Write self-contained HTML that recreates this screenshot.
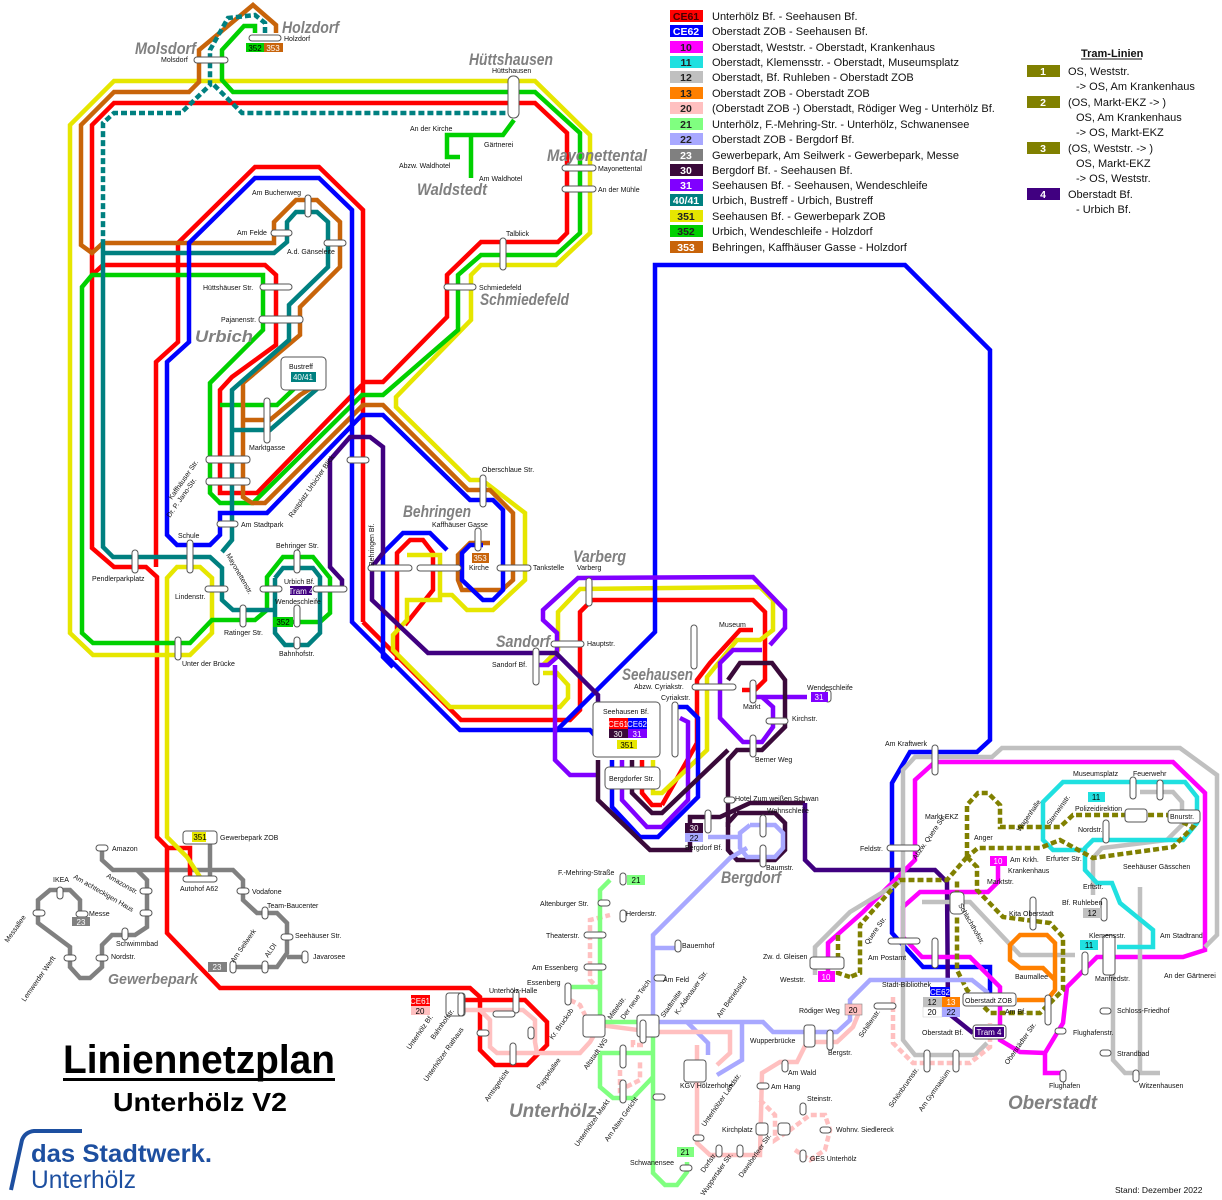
<!DOCTYPE html>
<html><head><meta charset="utf-8">
<style>
html,body{margin:0;padding:0;background:#fff;}
svg{display:block;}
.l{fill:none;stroke-width:4.5;stroke-linejoin:miter;stroke-linecap:butt;}
.d{stroke-dasharray:6 3;}
.s{fill:#fff;stroke:#555;stroke-width:1;}
.t{font-family:"Liberation Sans",sans-serif;font-size:7px;fill:#111;}
.r{font-family:"Liberation Sans",sans-serif;font-size:17px;font-style:italic;font-weight:bold;fill:#808080;}
.lg{font-family:"Liberation Sans",sans-serif;font-size:11px;fill:#111;}
.bt{font-family:"Liberation Sans",sans-serif;font-size:10.5px;font-weight:bold;text-anchor:middle;}
.bs{font-family:"Liberation Sans",sans-serif;font-size:8px;text-anchor:middle;}
</style></head><body>
<svg width="1222" height="1200" viewBox="0 0 1222 1200" xmlns="http://www.w3.org/2000/svg">
<rect width="1222" height="1200" fill="#fff"/>

<!-- ===== Gewerbepark gray 23 ===== -->
<g stroke="#808080" class="l">
<polyline class="l" points="102,848 102,860 113,870 233,870 243,880 243,900 257,913 277,913 287,923 287,953 277,967 233,967"/>
<polyline class="l" points="287,957 307,957"/>
<polyline class="l" points="137,870 147,880 147,927 135,935 112,935 102,945 102,967 90,978 80,978 70,967 70,947 38,923 38,900 50,890 70,890 80,900 80,913"/>
<polyline class="l" points="210,833 210,880"/>
</g>

<!-- ===== Red CE61 ===== -->
<g stroke="#ff0000">
<polyline class="l" points="447,1000 525,1000 547,1022 547,1045 527,1065 495,1065 480,1050 480,997 470,988 220,988 167,933 167,847 157,837 157,577 146,567 114,567 92,548 92,125 114,103 535,103 567,133 567,233 558,242 481,242 447,275 447,317 383,382 363,382"/>
<polyline class="l" points="363,622 363,210 319,167 255,167 178,243 178,342 156,362 156,567"/>
<polyline class="l" points="92,275 103,265 265,265 276,275 276,345 232,377 220,390 220,493 257,493 362,385"/>
<polyline class="l" points="167,848 190,848 190,878"/>
<polyline class="l" points="363,622 461,720 570,720 580,710 580,612 592,600 753,600 765,612 765,680 755,690 742,690"/>
<polyline class="l" points="753,630 740,630 710,663 697,680 697,743 662,805"/>
<polyline class="l" points="642,760 642,793 652,805 662,805"/>
<polyline class="l" points="397,660 397,553 410,540 423,540 433,553 433,590 405,625"/>
</g>

<!-- ===== Yellow 351 ===== -->
<g stroke="#e6e600">
<polyline class="l" points="200,877 187,857 167,837 167,578 177,567 200,567 212,578 212,633 190,655 93,655 70,633 70,125 114,81 535,81 590,135 590,233 556,265 481,265 471,275 471,320 396,397 396,407 470,480 482,480 525,513 525,580 493,610 467,610 452,595 440,595"/>
<polyline class="l" points="407,555 440,555 440,600 407,600 407,620 393,635 393,650 450,707 560,707 568,698 568,685 557,673 543,673"/>
<polyline class="l" points="543,665 558,650 558,612 580,589 760,587 773,600 773,630 760,640 737,640 707,677 707,750 662,793 653,793 653,760"/>
</g>

<!-- ===== Green 352 ===== -->
<g stroke="#00d000">
<polyline class="l" points="255,33 255,26 244,26 222,50 222,80 233,92 535,92 580,133 580,233 556,255 481,255 458,275 458,330 383,395 362,395 253,503 220,503 210,493 210,383 263,330 263,275 92,275 82,287 82,633 93,643 190,643 212,620 255,620 267,610 267,577 283,557 313,557 330,578 330,613 320,622 277,622"/>
<polyline class="l" points="514,120 503,135 447,135 447,157 460,157"/>
<polyline class="l" points="471,135 471,178"/>
<polyline class="l" points="220,405 277,405 298,385"/>
</g>

<!-- ===== Brown 353 ===== -->
<g stroke="#c8640a">
<polyline class="l" points="276,33 276,25 253,5 199,50 199,82 189,92 114,92 81,125 81,245 92,253 103,243 274,243 274,222 296,200 317,200 340,222 340,267 300,307 300,335 243,383 243,497 252,503 265,503 363,405 383,405 468,490 490,490 513,513 513,580 502,590 462,590 458,580 458,555 470,543 490,543"/>
<polyline class="l" points="243,420 270,420 300,395 325,380"/>
</g>

<!-- ===== Teal 40/41 ===== -->
<g stroke="#008080">
<polyline class="l d" points="265,33 265,23 255,15 228,18 210,50 210,85 181,113 114,113 103,123 103,240"/>
<polyline class="l d" points="214,85 242,113 506,113"/>
<polyline class="l" points="103,240 103,547 113,557 210,557 222,568 222,600 233,610 275,610"/>
<polyline class="l" points="103,253 274,253 287,242 287,222 296,212 317,212 328,222 328,267 289,305 289,340 232,390 232,540 222,552"/>
<polyline class="l" points="275,578 283,568 313,568 320,577 320,633 308,645 285,645 275,633 275,578"/>
<polyline class="l" points="232,430 270,430 310,395 325,382"/>
</g>

<!-- ===== Blue CE62 ===== -->
<g stroke="#0000ff">
<polyline class="l" points="990,993 990,967 923,967 892,933 892,783 910,752 977,752 990,740 990,350 905,265 655,265 655,632 557,730 460,730 352,622 352,210 319,178 255,178 189,243 189,342 167,362 167,535 177,545 210,545 220,535 220,513 267,513 362,415 383,415 470,500 493,500 503,510 503,590 493,600 483,600 462,580 462,553 470,545 483,545"/>
<polyline class="l" points="447,550 430,533 403,533 383,553 383,657 393,667"/>
<polyline class="l" points="612,760 612,807 640,837 658,837 698,797 698,718 687,707 677,707"/>
<polyline class="l" points="557,730 590,730 603,745"/>
</g>

<!-- ===== Purple 31 ===== -->
<g stroke="#8000ff">
<polyline class="l" points="538,665 548,665 557,657 557,633 543,620 543,610 578,578 753,577 785,610 785,628 770,645"/>
<polyline class="l" points="555,665 555,760 570,775 598,775"/>
<polyline class="l" points="622,760 622,800 647,827 662,827 688,800 688,722 680,718"/>
<polyline class="l" points="762,650 733,650 720,663 720,718 743,742 762,742 773,727 773,707 762,697"/>
<polyline class="l" points="753,697 807,697"/>
</g>

<!-- ===== Dark 30 / Tram 4 ===== -->
<g stroke="#3a0a3a">
<polyline class="l" points="632,760 632,793 652,813 662,813 728,750"/>
<polyline class="l" points="728,680 740,663 772,663 785,680 785,727 762,750 737,750 728,760 728,827"/>
<polyline class="l" points="598,760 598,800 650,850 690,850 690,817 720,817 750,803 805,803"/>
<polyline class="l" points="737,813 775,813 785,823 785,850 775,860 737,860 728,850 728,823 737,813"/>
</g>
<g stroke="#400080">
<polyline class="l" points="973,1033 948,1013 947,882 935,870 815,870 805,860 805,803"/>
<polyline class="l" points="342,590 342,580 330,567 330,460 350,437 370,437 383,447 383,553 372,567 372,600 428,653 556,653 598,695 598,757"/>
</g>

<!-- ===== Magenta 10 ===== -->
<g stroke="#ff00ff">
<polyline class="l" points="828,977 828,943 863,912 915,860 915,780 935,762 1173,762 1205,793 1205,950 1183,957 1097,957 1087,967 1067,987 1063,1023 1045,1053 1045,1073 1063,1073"/>
<polyline class="l" points="998,863 998,882 988,892 920,892 903,907 903,937 922,957 970,957 1000,987 1000,1040 1020,1052 1045,1053"/>
</g>

<!-- ===== Gray 12 ===== -->
<g stroke="#c0c0c0">
<polyline class="l" points="1205,947 1217,935 1217,775 1180,748 1002,748 992,757 915,757 903,770 903,1040 915,1055 975,1055 987,1043"/>
<polyline class="l" points="815,975 815,947 850,912 903,880"/>
<polyline class="l" points="922,902 970,902 1020,955 1075,955"/>
<polyline class="l" points="1113,963 1113,1060 1125,1073 1160,1073"/>
<polyline class="l" points="1140,887 1140,1073"/>
<polyline class="l" points="1140,792 1173,792 1182,802 1182,825 1167,840 1102,848 1093,858 1093,895"/>
</g>

<!-- ===== Cyan 11 ===== -->
<g stroke="#20e0e0">
<polyline class="l" points="1083,850 1053,850 1043,840 1043,802 1063,782 1185,782 1197,797 1197,823 1183,840 1093,840 1085,848 1085,870 1097,883 1112,883 1120,903 1153,930 1153,947 1117,947"/>
</g>

<!-- ===== Orange 13 ===== -->
<g stroke="#ff8000">
<polyline class="l" points="1017,1000 1047,1000 1055,990 1055,943 1047,935 1020,935 1010,945 1010,960 1020,968 1043,968 1055,980"/>
</g>

<!-- ===== Olive trams ===== -->
<g stroke="#808000">
<polyline class="l d" points="967,857 967,805 978,793 988,793 1000,805 1000,827 1013,827 1060,827 1073,815 1167,815 1193,827 1173,847 1093,858 1060,840 1040,848 978,848 967,857"/>
<polyline class="l d" points="967,857 947,880 900,880 860,925 860,973 850,977"/>
<polyline class="l d" points="967,857 977,867 977,890 1003,917 1050,923 1063,937 1063,990 1040,1013 990,1013 967,990 957,970 957,880"/>
<polyline class="l d" points="838,935 838,973 850,977"/>
</g>

<!-- ===== Lavender 22 ===== -->
<g stroke="#a8a8ff">
<polyline class="l" points="653,1022 653,935 730,858 747,848"/>
<polyline class="l" points="750,825 775,825 783,833 783,848 775,857 747,857 740,848 740,833 750,825"/>
<polyline class="l" points="708,837 740,837"/>
<polyline class="l" points="653,1022 763,1022 773,1032 837,1032 850,1020 850,1000 870,980 972,980 987,992 987,1000"/>
<polyline class="l" points="687,1022 708,1043 708,1055"/>
<polyline class="l" points="742,1022 742,1060 717,1075"/>
<polyline class="l" points="653,948 675,948"/>
</g>

<!-- ===== Pink 20 ===== -->
<g stroke="#ffc0c0">
<polyline class="l" points="447,1010 523,1010 535,1020 535,1042 537,1053 580,1053 590,1042 600,1025 653,1032 730,1032 730,1053 717,1065"/>
<polyline class="l" points="480,1010 490,1020 490,1047 497,1053 537,1053"/>
<polyline class="l" points="697,1045 697,1143 710,1155 760,1155 762,1073 780,1062 797,1062 807,1042 837,1042 853,1027 860,1010"/>
<polyline class="l d" points="893,997 893,1043 913,1063 970,1063 990,1047 990,1023"/>
<polyline class="l d" points="600,990 590,980 590,920 610,915"/>
<polyline class="l d" points="620,1070 620,1090 640,1080 640,1060"/>
<polyline class="l d" points="760,1100 775,1115 775,1140 790,1130 810,1115 825,1115 830,1130 825,1150 810,1160 795,1150"/>
<polyline class="l d" points="633,1040 633,1045 643,1045"/>
<polyline class="l d" points="570,1000 580,1005 585,1015"/>
</g>

<!-- ===== Light green 21 ===== -->
<g stroke="#80ff80">
<polyline class="l" points="610,880 600,890 600,1022 653,1022 653,1173 665,1185 677,1185 687,1172 687,1162"/>
<polyline class="l" points="600,1053 653,1053"/>
<polyline class="l" points="600,1053 600,1087 613,1098 633,1098 653,1077"/>
<polyline class="l" points="570,987 600,987"/>
</g>

<!-- ===== Stations ===== -->
<g class="s">
<rect x="194" y="57" width="34" height="6" rx="3"/>
<rect x="249" y="35" width="32" height="6" rx="3"/>
<rect x="508" y="76" width="11" height="42" rx="5"/>
<rect x="562" y="165" width="34" height="6" rx="3"/>
<rect x="562" y="186" width="34" height="6" rx="3"/>
<rect x="444" y="284" width="32" height="6" rx="3"/>
<rect x="500" y="238" width="6" height="32" rx="3"/>
<rect x="305" y="195" width="6" height="22" rx="3"/>
<rect x="271" y="230" width="21" height="6" rx="3"/>
<rect x="324" y="240" width="22" height="6" rx="3"/>
<rect x="260" y="284" width="32" height="6" rx="3"/>
<rect x="259" y="316" width="44" height="7" rx="3"/>
<rect x="281" y="357" width="45" height="33" rx="4"/>
<rect x="264" y="398" width="6" height="45" rx="3"/>
<rect x="206" y="456" width="44" height="7" rx="3"/>
<rect x="206" y="478" width="44" height="7" rx="3"/>
<rect x="217" y="521" width="21" height="6" rx="3"/>
<rect x="187" y="540" width="6" height="33" rx="3"/>
<rect x="132" y="550" width="6" height="23" rx="3"/>
<rect x="205" y="586" width="23" height="6" rx="3"/>
<rect x="260" y="586" width="22" height="6" rx="3"/>
<rect x="313" y="586" width="34" height="6" rx="3"/>
<rect x="294" y="550" width="6" height="23" rx="3"/>
<rect x="294" y="605" width="6" height="22" rx="3"/>
<rect x="294" y="637" width="6" height="12" rx="3"/>
<rect x="240" y="605" width="6" height="22" rx="3"/>
<rect x="175" y="637" width="6" height="23" rx="3"/>
<rect x="347" y="457" width="22" height="6" rx="3"/>
<rect x="480" y="475" width="6" height="32" rx="3"/>
<rect x="368" y="565" width="44" height="6" rx="3"/>
<rect x="417" y="565" width="44" height="6" rx="3"/>
<rect x="497" y="565" width="34" height="6" rx="3"/>
<rect x="475" y="528" width="6" height="23" rx="3"/>
<rect x="586" y="578" width="6" height="28" rx="3"/>
<rect x="551" y="641" width="33" height="6" rx="3"/>
<rect x="533" y="648" width="6" height="37" rx="3"/>
<rect x="691" y="625" width="6" height="44" rx="3"/>
<rect x="692" y="684" width="44" height="6" rx="3"/>
<rect x="750" y="680" width="6" height="23" rx="3"/>
<rect x="825" y="690" width="6" height="12" rx="3"/>
<rect x="766" y="718" width="22" height="6" rx="3"/>
<rect x="750" y="735" width="6" height="22" rx="3"/>
<rect x="593" y="702" width="67" height="55" rx="4"/>
<rect x="605" y="767" width="55" height="22" rx="4"/>
<rect x="672" y="702" width="6" height="55" rx="3"/>
<rect x="724" y="797" width="11" height="6" rx="3"/>
<rect x="705" y="810" width="6" height="23" rx="3"/>
<rect x="760" y="815" width="6" height="22" rx="3"/>
<rect x="760" y="845" width="6" height="22" rx="3"/>
<rect x="932" y="745" width="6" height="30" rx="3"/>
<rect x="887" y="845" width="33" height="6" rx="3"/>
<rect x="950" y="892" width="14" height="22" rx="4"/>
<rect x="1130" y="777" width="6" height="22" rx="3"/>
<rect x="1157" y="780" width="6" height="20" rx="3"/>
<rect x="1125" y="809" width="22" height="13" rx="3"/>
<rect x="1168" y="810" width="32" height="13" rx="3"/>
<rect x="1103" y="820" width="6" height="23" rx="3"/>
<rect x="1101" y="898" width="6" height="23" rx="3"/>
<rect x="1030" y="897" width="6" height="33" rx="3"/>
<rect x="1103" y="935" width="12" height="40" rx="3"/>
<rect x="1082" y="952" width="6" height="23" rx="3"/>
<rect x="888" y="938" width="32" height="6" rx="3"/>
<rect x="932" y="938" width="6" height="30" rx="3"/>
<rect x="874" y="1003" width="22" height="6" rx="3"/>
<rect x="1045" y="995" width="6" height="30" rx="3"/>
<rect x="963" y="993" width="53" height="13" rx="3"/>
<rect x="973" y="1025" width="33" height="14" rx="3"/>
<rect x="810" y="957" width="34" height="12" rx="3"/>
<rect x="1055" y="1028" width="11" height="6" rx="3"/>
<rect x="1100" y="1008" width="11" height="6" rx="3"/>
<rect x="1100" y="1050" width="11" height="6" rx="3"/>
<rect x="1060" y="1070" width="6" height="12" rx="3"/>
<rect x="1133" y="1070" width="6" height="12" rx="3"/>
<rect x="924" y="1050" width="6" height="22" rx="3"/>
<rect x="953" y="1050" width="6" height="22" rx="3"/>
<rect x="804" y="1025" width="11" height="22" rx="3"/>
<rect x="827" y="1030" width="6" height="20" rx="3"/>
<rect x="782" y="1060" width="6" height="12" rx="3"/>
<rect x="757" y="1083" width="12" height="6" rx="3"/>
<rect x="800" y="1103" width="6" height="12" rx="3"/>
<rect x="756" y="1123" width="12" height="12" rx="3"/>
<rect x="778" y="1123" width="12" height="12" rx="3"/>
<rect x="820" y="1127" width="11" height="6" rx="3"/>
<rect x="800" y="1150" width="6" height="12" rx="3"/>
<rect x="693" y="1135" width="11" height="6" rx="3"/>
<rect x="716" y="1145" width="6" height="12" rx="3"/>
<rect x="737" y="1145" width="6" height="12" rx="3"/>
<rect x="684" y="1060" width="22" height="22" rx="3"/>
<rect x="637" y="1015" width="22" height="22" rx="3"/>
<rect x="583" y="1015" width="22" height="22" rx="3"/>
<rect x="620" y="873" width="6" height="12" rx="3"/>
<rect x="598" y="900" width="12" height="6" rx="3"/>
<rect x="620" y="910" width="6" height="12" rx="3"/>
<rect x="584" y="932" width="22" height="6" rx="3"/>
<rect x="584" y="964" width="22" height="6" rx="3"/>
<rect x="565" y="983" width="6" height="22" rx="3"/>
<rect x="675" y="940" width="6" height="12" rx="3"/>
<rect x="654" y="975" width="12" height="6" rx="3"/>
<rect x="446" y="993" width="19" height="23" rx="3"/>
<rect x="458" y="993" width="6" height="23" rx="3"/>
<rect x="513" y="990" width="6" height="23" rx="3"/>
<rect x="528" y="1027" width="6" height="12" rx="3"/>
<rect x="477" y="1030" width="12" height="6" rx="3"/>
<rect x="493" y="1011" width="22" height="6" rx="3"/>
<rect x="510" y="1043" width="6" height="22" rx="3"/>
<rect x="620" y="1045" width="6" height="23" rx="3"/>
<rect x="620" y="1080" width="6" height="23" rx="3"/>
<rect x="640" y="1020" width="6" height="23" rx="3"/>
<rect x="653" y="1094" width="12" height="6" rx="3"/>
<rect x="680" y="1165" width="12" height="6" rx="3"/>
<rect x="183" y="831" width="34" height="13" rx="3"/>
<rect x="183" y="876" width="34" height="6" rx="3"/>
<rect x="96" y="845" width="12" height="6" rx="3"/>
<rect x="140" y="888" width="12" height="6" rx="3"/>
<rect x="140" y="910" width="12" height="6" rx="3"/>
<rect x="122" y="928" width="6" height="12" rx="3"/>
<rect x="96" y="955" width="12" height="6" rx="3"/>
<rect x="57" y="887" width="6" height="12" rx="3"/>
<rect x="33" y="910" width="12" height="6" rx="3"/>
<rect x="64" y="955" width="12" height="6" rx="3"/>
<rect x="76" y="911" width="12" height="6" rx="3"/>
<rect x="237" y="888" width="12" height="6" rx="3"/>
<rect x="262" y="907" width="6" height="12" rx="3"/>
<rect x="281" y="934" width="12" height="6" rx="3"/>
<rect x="302" y="951" width="6" height="12" rx="3"/>
<rect x="262" y="961" width="6" height="12" rx="3"/>
<rect x="230" y="961" width="6" height="12" rx="3"/>
</g>

<!-- ===== Badges on map ===== -->
<g>
<rect x="246" y="43" width="18" height="9" fill="#00d000"/><text x="255" y="51" class="bs">352</text>
<rect x="264" y="43" width="19" height="9" fill="#c8640a"/><text x="273" y="51" class="bs" fill="#fff">353</text>
<rect x="291" y="372" width="25" height="10" fill="#008080"/><text x="303" y="380" class="bs" fill="#fff">40/41</text>
<rect x="472" y="553" width="17" height="10" fill="#c8640a"/><text x="480" y="561" class="bs" fill="#fff">353</text>
<rect x="290" y="586" width="22" height="9" fill="#400080"/><text x="301" y="594" class="bs" fill="#fff">Tram 4</text>
<rect x="273" y="617" width="20" height="10" fill="#00d000"/><text x="283" y="625" class="bs">352</text>
<rect x="609" y="718" width="19" height="11" fill="#ff0000"/><text x="618" y="727" class="bs" fill="#fff">CE61</text>
<rect x="628" y="718" width="19" height="11" fill="#0000ff"/><text x="637" y="727" class="bs" fill="#fff">CE62</text>
<rect x="609" y="729" width="19" height="9" fill="#3a0a3a"/><text x="618" y="737" class="bs" fill="#fff">30</text>
<rect x="628" y="729" width="19" height="9" fill="#8000ff"/><text x="637" y="737" class="bs" fill="#fff">31</text>
<rect x="617" y="740" width="20" height="9" fill="#e6e600"/><text x="627" y="748" class="bs">351</text>
<rect x="811" y="692" width="17" height="10" fill="#8000ff"/><text x="819" y="700" class="bs" fill="#fff">31</text>
<rect x="685" y="823" width="18" height="10" fill="#3a0a3a"/><text x="694" y="831" class="bs" fill="#fff">30</text>
<rect x="685" y="833" width="18" height="9" fill="#a8a8ff"/><text x="694" y="841" class="bs">22</text>
<rect x="990" y="856" width="17" height="10" fill="#ff00ff"/><text x="998" y="864" class="bs" fill="#fff">10</text>
<rect x="1088" y="792" width="17" height="10" fill="#20e0e0"/><text x="1096" y="800" class="bs">11</text>
<rect x="1083" y="908" width="18" height="10" fill="#c0c0c0"/><text x="1092" y="916" class="bs">12</text>
<rect x="1080" y="940" width="18" height="10" fill="#20e0e0"/><text x="1089" y="948" class="bs">11</text>
<rect x="818" y="971" width="17" height="11" fill="#ff00ff"/><text x="826" y="980" class="bs" fill="#fff">10</text>
<rect x="930" y="987" width="20" height="9" fill="#0000ff"/><text x="940" y="995" class="bs" fill="#fff">CE62</text>
<rect x="923" y="997" width="19" height="10" fill="#c0c0c0"/><text x="932" y="1005" class="bs">12</text>
<rect x="942" y="997" width="18" height="10" fill="#ff8000"/><text x="951" y="1005" class="bs" fill="#fff">13</text>
<rect x="923" y="1007" width="19" height="10" fill="#fff" stroke="#ccc" stroke-width="0.5"/><text x="932" y="1015" class="bs">20</text>
<rect x="942" y="1007" width="18" height="10" fill="#a8a8ff"/><text x="951" y="1015" class="bs">22</text>
<rect x="975" y="1027" width="29" height="10" fill="#400080"/><text x="989" y="1035" class="bs" fill="#fff">Tram 4</text>
<rect x="845" y="1004" width="17" height="11" fill="#ffc0c0" stroke="#888" stroke-width="0.6"/><text x="853" y="1013" class="bs">20</text>
<rect x="411" y="995" width="19" height="11" fill="#ff0000"/><text x="420" y="1004" class="bs" fill="#fff">CE61</text>
<rect x="411" y="1006" width="19" height="9" fill="#ffc0c0"/><text x="420" y="1014" class="bs">20</text>
<rect x="627" y="875" width="18" height="10" fill="#80ff80"/><text x="636" y="883" class="bs">21</text>
<rect x="677" y="1147" width="17" height="10" fill="#80ff80"/><text x="685" y="1155" class="bs">21</text>
<rect x="192" y="832" width="14" height="10" fill="#e6e600"/><text x="200" y="840" class="bs">351</text>
<rect x="208" y="962" width="19" height="10" fill="#808080"/><text x="217" y="970" class="bs" fill="#fff">23</text>
<rect x="72" y="917" width="18" height="9" fill="#808080"/><text x="81" y="925" class="bs" fill="#fff">23</text>
</g>

<!-- ===== Region labels ===== -->
<g class="r">
<text x="135" y="54" textLength="61" lengthAdjust="spacingAndGlyphs">Molsdorf</text>
<text x="282" y="33" textLength="57" lengthAdjust="spacingAndGlyphs">Holzdorf</text>
<text x="469" y="65" textLength="84" lengthAdjust="spacingAndGlyphs">Hüttshausen</text>
<text x="547" y="161" textLength="100" lengthAdjust="spacingAndGlyphs">Mayonettental</text>
<text x="417" y="195" textLength="70" lengthAdjust="spacingAndGlyphs">Waldstedt</text>
<text x="480" y="305" textLength="89" lengthAdjust="spacingAndGlyphs">Schmiedefeld</text>
<text x="195" y="342" textLength="58" lengthAdjust="spacingAndGlyphs">Urbich</text>
<text x="403" y="517" textLength="68" lengthAdjust="spacingAndGlyphs">Behringen</text>
<text x="573" y="562" textLength="53" lengthAdjust="spacingAndGlyphs">Varberg</text>
<text x="496" y="647" textLength="54" lengthAdjust="spacingAndGlyphs">Sandorf</text>
<text x="622" y="680" textLength="71" lengthAdjust="spacingAndGlyphs">Seehausen</text>
<text x="721" y="883" textLength="60" lengthAdjust="spacingAndGlyphs">Bergdorf</text>
<text x="509" y="1117" font-size="19" textLength="87" lengthAdjust="spacingAndGlyphs">Unterhölz</text>
<text x="1008" y="1109" font-size="19" textLength="89" lengthAdjust="spacingAndGlyphs">Oberstadt</text>
<text x="108" y="984" font-size="15" textLength="90" lengthAdjust="spacingAndGlyphs">Gewerbepark</text>
</g>

<!-- ===== Small labels ===== -->
<g class="t">
<text x="161" y="62">Molsdorf</text>
<text x="284" y="41">Holzdorf</text>
<text x="492" y="73">Hüttshausen</text>
<text x="410" y="131">An der Kirche</text>
<text x="484" y="147">Gärtnerei</text>
<text x="399" y="168">Abzw. Waldhotel</text>
<text x="479" y="181">Am Waldhotel</text>
<text x="598" y="171">Mayonettental</text>
<text x="598" y="192">An der Mühle</text>
<text x="506" y="236">Talblick</text>
<text x="479" y="290">Schmiedefeld</text>
<text x="252" y="195">Am Buchenweg</text>
<text x="237" y="235">Am Felde</text>
<text x="287" y="254">A.d. Gänseleite</text>
<text x="203" y="290">Hüttshäuser Str.</text>
<text x="221" y="322">Pajanenstr.</text>
<text x="289" y="369">Bustreff</text>
<text x="249" y="450">Marktgasse</text>
<text x="241" y="527">Am Stadtpark</text>
<text x="178" y="538">Schule</text>
<text x="92" y="581">Pendlerparkplatz</text>
<text x="175" y="599">Lindenstr.</text>
<text x="276" y="548">Behringer Str.</text>
<text x="284" y="584">Urbich Bf.</text>
<text x="275" y="604">Wendeschleife</text>
<text x="224" y="635">Ratinger Str.</text>
<text x="279" y="656">Bahnhofstr.</text>
<text x="182" y="666">Unter der Brücke</text>
<text x="482" y="472">Oberschlaue Str.</text>
<text x="432" y="527">Kaffhäuser Gasse</text>
<text x="469" y="570">Kirche</text>
<text x="533" y="570">Tankstelle</text>
<text x="577" y="570">Varberg</text>
<text x="587" y="646">Hauptstr.</text>
<text x="492" y="667">Sandorf Bf.</text>
<text x="719" y="627">Museum</text>
<text x="634" y="689">Abzw. Cyriakstr.</text>
<text x="661" y="700">Cyriakstr.</text>
<text x="603" y="714">Seehausen Bf.</text>
<text x="609" y="781">Bergdorfer Str.</text>
<text x="743" y="709">Markt</text>
<text x="807" y="690">Wendeschleife</text>
<text x="792" y="721">Kirchstr.</text>
<text x="755" y="762">Berner Weg</text>
<text x="735" y="801">Hotel Zum weißen Schwan</text>
<text x="767" y="813">Wohnschleife</text>
<text x="685" y="850">Bergdorf Bf.</text>
<text x="766" y="870">Baumstr.</text>
<text x="885" y="746">Am Kraftwerk</text>
<text x="860" y="851">Feldstr.</text>
<text x="925" y="819">Markt-EKZ</text>
<text x="974" y="840">Anger</text>
<text x="1010" y="862">Am Krkh.</text>
<text x="1008" y="873">Krankenhaus</text>
<text x="987" y="884">Marktstr.</text>
<text x="1073" y="776">Museumsplatz</text>
<text x="1133" y="776">Feuerwehr</text>
<text x="1075" y="811">Polizeidirektion</text>
<text x="1170" y="819">Bnurstr.</text>
<text x="1078" y="832">Nordstr.</text>
<text x="1046" y="861">Erfurter Str.</text>
<text x="1123" y="869">Seehäuser Gässchen</text>
<text x="1083" y="889">Erftstr.</text>
<text x="1062" y="905">Bf. Ruhleben</text>
<text x="1009" y="916">Kita Oberstadt</text>
<text x="1089" y="938">Klemensstr.</text>
<text x="1160" y="938">Am Stadtrand</text>
<text x="763" y="959">Zw. d. Gleisen</text>
<text x="868" y="960">Am Postamt</text>
<text x="780" y="982">Weststr.</text>
<text x="882" y="987">Stadt-Bibliothek</text>
<text x="1015" y="979">Baumallee</text>
<text x="1095" y="981">Manfredstr.</text>
<text x="1164" y="978">An der Gärtnerei</text>
<text x="965" y="1003">Oberstadt ZOB</text>
<text x="1005" y="1014">Am Bf.</text>
<text x="1117" y="1013">Schloss-Friedhof</text>
<text x="799" y="1013">Rödiger Weg</text>
<text x="922" y="1035">Oberstadt Bf.</text>
<text x="1073" y="1035">Flughafenstr.</text>
<text x="750" y="1043">Wupperbrücke</text>
<text x="828" y="1055">Bergstr.</text>
<text x="1117" y="1056">Strandbad</text>
<text x="788" y="1075">Am Wald</text>
<text x="771" y="1089">Am Hang</text>
<text x="1049" y="1088">Flughafen</text>
<text x="1139" y="1088">Witzenhausen</text>
<text x="807" y="1101">Steinstr.</text>
<text x="722" y="1132">Kirchplatz</text>
<text x="836" y="1132">Wohnv. Siedlereck</text>
<text x="810" y="1161">GES Unterhölz</text>
<text x="630" y="1165">Schwanensee</text>
<text x="558" y="875">F.-Mehring-Straße</text>
<text x="540" y="906">Altenburger Str.</text>
<text x="626" y="916">Herderstr.</text>
<text x="546" y="938">Theaterstr.</text>
<text x="682" y="948">Bauernhof</text>
<text x="532" y="970">Am Essenberg</text>
<text x="527" y="985">Essenberg</text>
<text x="663" y="982">Am Feld</text>
<text x="489" y="993">Unterhölz-Halle</text>
<text x="680" y="1088">KGV Hölzerhohe</text>
<text x="112" y="851">Amazon</text>
<text x="220" y="840">Gewerbepark ZOB</text>
<text x="180" y="891">Autohof A62</text>
<text x="252" y="894">Vodafone</text>
<text x="267" y="908">Team-Baucenter</text>
<text x="295" y="938">Seehäuser Str.</text>
<text x="313" y="959">Javarosee</text>
<text x="116" y="946">Schwimmbad</text>
<text x="111" y="959">Nordstr.</text>
<text x="53" y="882">IKEA</text>
<text x="89" y="916">Messe</text>
<text transform="translate(170,518) rotate(-55)">Dr. P. Jano-Str.</text>
<text transform="translate(172,500) rotate(-55)">Kaffhäuser Str.</text>
<text transform="translate(292,518) rotate(-55)">Rastplatz Urbicher Blick</text>
<text transform="translate(374,566) rotate(-90)">Behringen Bf.</text>
<text transform="translate(226,555) rotate(60)">Mayonettenstr.</text>
<text transform="translate(916,860) rotate(-55)">Abzw. Quere Str.</text>
<text transform="translate(958,905) rotate(60)">Schlachthofstr.</text>
<text transform="translate(868,945) rotate(-55)">Quere Str.</text>
<text transform="translate(1020,832) rotate(-55)">Wagenhalle</text>
<text transform="translate(1050,826) rotate(-55)">Sterneinstr.</text>
<text transform="translate(410,1050) rotate(-55)">Unterhölz Bf.</text>
<text transform="translate(434,1040) rotate(-55)">Bahnhofstr.</text>
<text transform="translate(427,1082) rotate(-55)">Unterhölzer Rathaus</text>
<text transform="translate(488,1102) rotate(-55)">Amtsgericht</text>
<text transform="translate(540,1090) rotate(-55)">Pappelallee</text>
<text transform="translate(553,1040) rotate(-55)">Kr. Bruckob</text>
<text transform="translate(587,1070) rotate(-55)">Altstadt WS</text>
<text transform="translate(578,1147) rotate(-55)">Unterhölzer Markt</text>
<text transform="translate(608,1142) rotate(-55)">Am Alten Gericht</text>
<text transform="translate(611,1020) rotate(-55)">Mittelstr.</text>
<text transform="translate(624,1020) rotate(-55)">Der neue Teich</text>
<text transform="translate(664,1018) rotate(-55)">Stadtmitte</text>
<text transform="translate(678,1015) rotate(-55)">K.-Adenauer Str.</text>
<text transform="translate(720,1018) rotate(-55)">Am Betriebshof</text>
<text transform="translate(705,1127) rotate(-55)">Unterhölzer Landstr.</text>
<text transform="translate(704,1173) rotate(-55)">Dorfstr.</text>
<text transform="translate(704,1196) rotate(-55)">Wuppertaler Str.</text>
<text transform="translate(742,1178) rotate(-55)">Dawsberleer Str.</text>
<text transform="translate(862,1038) rotate(-55)">Schillerstr.</text>
<text transform="translate(892,1108) rotate(-55)">Schönbrunnstr.</text>
<text transform="translate(922,1112) rotate(-55)">Am Gymnasium</text>
<text transform="translate(1008,1065) rotate(-55)">Oberstädter Str.</text>
<text transform="translate(25,1002) rotate(-55)">Lemwerder Werft</text>
<text transform="translate(8,943) rotate(-55)">Messallee</text>
<text transform="translate(73,878) rotate(30)">Am achteckigen Haus</text>
<text transform="translate(106,877) rotate(30)">Amazonstr.</text>
<text transform="translate(234,963) rotate(-55)">Am Seilwerk</text>
<text transform="translate(268,958) rotate(-55)">ALDI</text>
</g>

<!-- ===== Legend ===== -->
<g>
<rect x="670" y="10" width="33" height="12" fill="#ff0000"/><text x="686" y="20" class="bt" fill="#400">CE61</text>
<rect x="670" y="25" width="33" height="12" fill="#0000ff"/><text x="686" y="35" class="bt" fill="#fff">CE62</text>
<rect x="670" y="41" width="33" height="12" fill="#ff00ff"/><text x="686" y="51" class="bt" fill="#222">10</text>
<rect x="670" y="56" width="33" height="12" fill="#20e0e0"/><text x="686" y="66" class="bt" fill="#222">11</text>
<rect x="670" y="71" width="33" height="12" fill="#c0c0c0"/><text x="686" y="81" class="bt" fill="#222">12</text>
<rect x="670" y="87" width="33" height="12" fill="#ff8000"/><text x="686" y="97" class="bt" fill="#222">13</text>
<rect x="670" y="102" width="33" height="12" fill="#ffc0c0"/><text x="686" y="112" class="bt" fill="#222">20</text>
<rect x="670" y="118" width="33" height="12" fill="#80ff80"/><text x="686" y="128" class="bt" fill="#222">21</text>
<rect x="670" y="133" width="33" height="12" fill="#a8a8ff"/><text x="686" y="143" class="bt" fill="#222">22</text>
<rect x="670" y="149" width="33" height="12" fill="#808080"/><text x="686" y="159" class="bt" fill="#fff">23</text>
<rect x="670" y="164" width="33" height="12" fill="#3a0a3a"/><text x="686" y="174" class="bt" fill="#fff">30</text>
<rect x="670" y="179" width="33" height="12" fill="#8000ff"/><text x="686" y="189" class="bt" fill="#fff">31</text>
<rect x="670" y="194" width="33" height="12" fill="#008080"/><text x="686" y="204" class="bt" fill="#fff">40/41</text>
<rect x="670" y="210" width="33" height="12" fill="#e6e600"/><text x="686" y="220" class="bt" fill="#222">351</text>
<rect x="670" y="225" width="33" height="12" fill="#00d000"/><text x="686" y="235" class="bt" fill="#222">352</text>
<rect x="670" y="241" width="33" height="12" fill="#c8640a"/><text x="686" y="251" class="bt" fill="#fff">353</text>
<g class="lg">
<text x="712" y="20">Unterhölz Bf. - Seehausen Bf.</text>
<text x="712" y="35">Oberstadt ZOB - Seehausen Bf.</text>
<text x="712" y="51">Oberstadt, Weststr. - Oberstadt, Krankenhaus</text>
<text x="712" y="66">Oberstadt, Klemensstr. - Oberstadt, Museumsplatz</text>
<text x="712" y="81">Oberstadt, Bf. Ruhleben - Oberstadt ZOB</text>
<text x="712" y="97">Oberstadt ZOB - Oberstadt ZOB</text>
<text x="712" y="112">(Oberstadt ZOB -) Oberstadt, Rödiger Weg - Unterhölz Bf.</text>
<text x="712" y="128">Unterhölz, F.-Mehring-Str. - Unterhölz, Schwanensee</text>
<text x="712" y="143">Oberstadt ZOB - Bergdorf Bf.</text>
<text x="712" y="159">Gewerbepark, Am Seilwerk - Gewerbepark, Messe</text>
<text x="712" y="174">Bergdorf Bf. - Seehausen Bf.</text>
<text x="712" y="189">Seehausen Bf. - Seehausen, Wendeschleife</text>
<text x="712" y="204">Urbich, Bustreff - Urbich, Bustreff</text>
<text x="712" y="220">Seehausen Bf. - Gewerbepark ZOB</text>
<text x="712" y="235">Urbich, Wendeschleife - Holzdorf</text>
<text x="712" y="251">Behringen, Kaffhäuser Gasse - Holzdorf</text>
<text x="1081" y="57" font-weight="bold">Tram-Linien</text>
<text x="1068" y="75">OS, Weststr.</text>
<text x="1076" y="90">-&gt; OS, Am Krankenhaus</text>
<text x="1068" y="106">(OS, Markt-EKZ -&gt; )</text>
<text x="1076" y="121">OS, Am Krankenhaus</text>
<text x="1076" y="136">-&gt; OS, Markt-EKZ</text>
<text x="1068" y="152">(OS, Weststr. -&gt; )</text>
<text x="1076" y="167">OS, Markt-EKZ</text>
<text x="1076" y="182">-&gt; OS, Weststr.</text>
<text x="1068" y="198">Oberstadt Bf.</text>
<text x="1076" y="213">- Urbich Bf.</text>
</g>
<line x1="1081" y1="59" x2="1142" y2="59" stroke="#111" stroke-width="1"/>
<rect x="1027" y="65" width="33" height="12" fill="#808000"/><text x="1043" y="75" class="bt" fill="#fff">1</text>
<rect x="1027" y="96" width="33" height="12" fill="#808000"/><text x="1043" y="106" class="bt" fill="#fff">2</text>
<rect x="1027" y="142" width="33" height="12" fill="#808000"/><text x="1043" y="152" class="bt" fill="#fff">3</text>
<rect x="1027" y="188" width="33" height="12" fill="#400080"/><text x="1043" y="198" class="bt" fill="#fff">4</text>
</g>

<!-- ===== Title & logo ===== -->
<text x="63" y="1073" font-family="Liberation Sans, sans-serif" font-size="40" font-weight="bold" fill="#000" textLength="272" lengthAdjust="spacingAndGlyphs">Liniennetzplan</text>
<rect x="63" y="1078" width="272" height="3" fill="#000"/>
<text x="113" y="1111" font-family="Liberation Sans, sans-serif" font-size="26" font-weight="bold" fill="#000" textLength="174" lengthAdjust="spacingAndGlyphs">Unterhölz V2</text>
<path d="M11,1190 L22,1140 Q25,1132 34,1131 L82,1131" fill="none" stroke="#1d4fa0" stroke-width="4"/>
<text x="31" y="1162" font-family="Liberation Sans, sans-serif" font-size="25" font-weight="bold" fill="#1d4fa0" textLength="181" lengthAdjust="spacingAndGlyphs">das Stadtwerk.</text>
<text x="31" y="1188" font-family="Liberation Sans, sans-serif" font-size="25" fill="#1d4fa0" textLength="105" lengthAdjust="spacingAndGlyphs">Unterhölz</text>
<text x="1115" y="1193" font-family="Liberation Sans, sans-serif" font-size="8.5" fill="#111">Stand: Dezember 2022</text>
</svg>
</body></html>
